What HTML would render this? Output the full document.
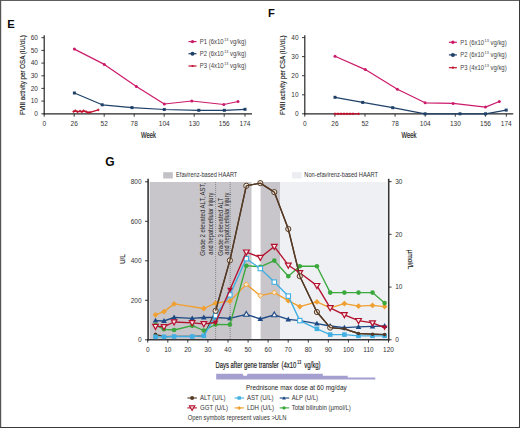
<!DOCTYPE html>
<html><head><meta charset="utf-8"><style>
html,body{margin:0;padding:0;background:#fff;}
body{width:520px;height:428px;overflow:hidden;}
svg{display:block;font-family:"Liberation Sans", sans-serif;}
</style></head><body>
<svg width="520" height="428" viewBox="0 0 520 428">
<rect x="0" y="0" width="520" height="428" fill="#fff"/>
<text transform="translate(7.20,27.80)" font-size="11.2" text-anchor="start" fill="#0a0a0a" font-weight="bold">E</text>
<line x1="44.2" y1="35.3" x2="44.2" y2="114.39999999999999" stroke="#262626" stroke-width="1.2"/>
<line x1="43.6" y1="113.8" x2="252" y2="113.8" stroke="#262626" stroke-width="1.3"/>
<line x1="41.400000000000006" y1="113.8" x2="44.2" y2="113.8" stroke="#262626" stroke-width="0.9"/>
<text transform="translate(37.90,116.10)" font-size="6.5" text-anchor="end" fill="#333">0</text>
<line x1="41.400000000000006" y1="101.1" x2="44.2" y2="101.1" stroke="#262626" stroke-width="0.9"/>
<text transform="translate(37.90,103.42)" font-size="6.5" text-anchor="end" fill="#333">10</text>
<line x1="41.400000000000006" y1="88.4" x2="44.2" y2="88.4" stroke="#262626" stroke-width="0.9"/>
<text transform="translate(37.90,90.73)" font-size="6.5" text-anchor="end" fill="#333">20</text>
<line x1="41.400000000000006" y1="75.8" x2="44.2" y2="75.8" stroke="#262626" stroke-width="0.9"/>
<text transform="translate(37.90,78.05)" font-size="6.5" text-anchor="end" fill="#333">30</text>
<line x1="41.400000000000006" y1="63.1" x2="44.2" y2="63.1" stroke="#262626" stroke-width="0.9"/>
<text transform="translate(37.90,65.37)" font-size="6.5" text-anchor="end" fill="#333">40</text>
<line x1="41.400000000000006" y1="50.4" x2="44.2" y2="50.4" stroke="#262626" stroke-width="0.9"/>
<text transform="translate(37.90,52.68)" font-size="6.5" text-anchor="end" fill="#333">50</text>
<line x1="41.400000000000006" y1="37.7" x2="44.2" y2="37.7" stroke="#262626" stroke-width="0.9"/>
<text transform="translate(37.90,40.00)" font-size="6.5" text-anchor="end" fill="#333">60</text>
<line x1="44.2" y1="113.8" x2="44.2" y2="116.7" stroke="#262626" stroke-width="0.9"/>
<text transform="translate(44.20,126.40)" font-size="6.5" text-anchor="middle" fill="#333">0</text>
<line x1="74.2" y1="113.8" x2="74.2" y2="116.7" stroke="#262626" stroke-width="0.9"/>
<text transform="translate(74.20,126.40)" font-size="6.5" text-anchor="middle" fill="#333">26</text>
<line x1="104.2" y1="113.8" x2="104.2" y2="116.7" stroke="#262626" stroke-width="0.9"/>
<text transform="translate(104.21,126.40)" font-size="6.5" text-anchor="middle" fill="#333">52</text>
<line x1="134.2" y1="113.8" x2="134.2" y2="116.7" stroke="#262626" stroke-width="0.9"/>
<text transform="translate(134.21,126.40)" font-size="6.5" text-anchor="middle" fill="#333">78</text>
<line x1="164.2" y1="113.8" x2="164.2" y2="116.7" stroke="#262626" stroke-width="0.9"/>
<text transform="translate(164.22,126.40)" font-size="6.5" text-anchor="middle" fill="#333">104</text>
<line x1="194.2" y1="113.8" x2="194.2" y2="116.7" stroke="#262626" stroke-width="0.9"/>
<text transform="translate(194.22,126.40)" font-size="6.5" text-anchor="middle" fill="#333">130</text>
<line x1="224.2" y1="113.8" x2="224.2" y2="116.7" stroke="#262626" stroke-width="0.9"/>
<text transform="translate(224.22,126.40)" font-size="6.5" text-anchor="middle" fill="#333">156</text>
<line x1="245.0" y1="113.8" x2="245.0" y2="116.7" stroke="#262626" stroke-width="0.9"/>
<text transform="translate(245.00,126.40)" font-size="6.5" text-anchor="middle" fill="#333">174</text>
<text stroke="#222" stroke-width="0.15" transform="translate(24.70,75.15) rotate(-90) scale(0.78,1)" font-size="8.0" text-anchor="middle" fill="#222">FVIII activity per OSA (IU/dL)</text>
<polyline points="74.4,49.1 104.3,64.4 136.4,86.5 164.3,104.0 191.8,101.0 223.8,104.5 238.0,101.5" fill="none" stroke="#cc1a6a" stroke-width="1.2" stroke-linejoin="round"/>
<circle cx="74.4" cy="49.1" r="1.5" fill="#cc1a6a"/>
<circle cx="104.3" cy="64.4" r="1.5" fill="#cc1a6a"/>
<circle cx="136.4" cy="86.5" r="1.5" fill="#cc1a6a"/>
<circle cx="164.3" cy="104.0" r="1.5" fill="#cc1a6a"/>
<circle cx="191.8" cy="101.0" r="1.5" fill="#cc1a6a"/>
<circle cx="223.8" cy="104.5" r="1.5" fill="#cc1a6a"/>
<circle cx="238.0" cy="101.5" r="1.5" fill="#cc1a6a"/>
<polyline points="74.4,93.0 102.2,104.8 132.0,107.6 164.3,109.5 198.8,110.3 224.3,110.3 245.0,109.3" fill="none" stroke="#1f4068" stroke-width="1.2" stroke-linejoin="round"/>
<rect x="72.9" y="91.5" width="3.0" height="3.0" fill="#1f4068"/>
<rect x="100.7" y="103.3" width="3.0" height="3.0" fill="#1f4068"/>
<rect x="130.5" y="106.1" width="3.0" height="3.0" fill="#1f4068"/>
<rect x="162.8" y="108.0" width="3.0" height="3.0" fill="#1f4068"/>
<rect x="197.3" y="108.8" width="3.0" height="3.0" fill="#1f4068"/>
<rect x="222.8" y="108.8" width="3.0" height="3.0" fill="#1f4068"/>
<rect x="243.5" y="107.8" width="3.0" height="3.0" fill="#1f4068"/>
<polyline points="73.6,111.6 75.3,110.7 77.5,111.8 80.0,111.1 82.0,111.8 83.6,110.8 86.0,111.6 88.0,112.5 90.0,112.3 98.3,109.9" fill="none" stroke="#c0102c" stroke-width="1.3" stroke-linejoin="round"/>
<path d="M72.3,111.6h2.6M73.6,110.3v2.6" stroke="#c0102c" stroke-width="0.9"/>
<path d="M74.0,110.7h2.6M75.3,109.4v2.6" stroke="#c0102c" stroke-width="0.9"/>
<path d="M76.2,111.8h2.6M77.5,110.5v2.6" stroke="#c0102c" stroke-width="0.9"/>
<path d="M78.7,111.1h2.6M80.0,109.8v2.6" stroke="#c0102c" stroke-width="0.9"/>
<path d="M80.7,111.8h2.6M82.0,110.5v2.6" stroke="#c0102c" stroke-width="0.9"/>
<path d="M82.3,110.8h2.6M83.6,109.5v2.6" stroke="#c0102c" stroke-width="0.9"/>
<path d="M84.7,111.6h2.6M86.0,110.3v2.6" stroke="#c0102c" stroke-width="0.9"/>
<path d="M86.7,112.5h2.6M88.0,111.2v2.6" stroke="#c0102c" stroke-width="0.9"/>
<path d="M88.7,112.3h2.6M90.0,111.0v2.6" stroke="#c0102c" stroke-width="0.9"/>
<path d="M97.0,109.9h2.6M98.3,108.6v2.6" stroke="#c0102c" stroke-width="0.9"/>
<line x1="188.5" y1="41.6" x2="196.5" y2="41.6" stroke="#cc1a6a" stroke-width="1.2"/>
<circle cx="192.5" cy="41.6" r="1.7" fill="#cc1a6a"/>
<text transform="translate(199.8,43.800000000000004) scale(0.95,1)" font-size="6.3" fill="#444">P1 (6x10<tspan font-size="4" dx="0.5" dy="-2.8">13</tspan><tspan dy="2.8"> vg/kg)</tspan></text>
<line x1="188.5" y1="53.7" x2="196.5" y2="53.7" stroke="#1f4068" stroke-width="1.2"/>
<circle cx="192.5" cy="53.7" r="2.0" fill="#1f4068"/>
<text transform="translate(199.8,55.900000000000006) scale(0.95,1)" font-size="6.3" fill="#444">P2 (6x10<tspan font-size="4" dx="0.5" dy="-2.8">13</tspan><tspan dy="2.8"> vg/kg)</tspan></text>
<line x1="188.5" y1="66.0" x2="196.5" y2="66.0" stroke="#c0102c" stroke-width="1.2"/>
<circle cx="192.5" cy="66.0" r="1.1" fill="#c0102c"/>
<text transform="translate(199.8,68.2) scale(0.95,1)" font-size="6.3" fill="#444">P3 (4x10<tspan font-size="4" dx="0.5" dy="-2.8">13</tspan><tspan dy="2.8"> vg/kg)</tspan></text>
<text transform="translate(267.90,16.80)" font-size="11.2" text-anchor="start" fill="#0a0a0a" font-weight="bold">F</text>
<line x1="304.8" y1="35.2" x2="304.8" y2="114.39999999999999" stroke="#262626" stroke-width="1.2"/>
<line x1="304.2" y1="113.8" x2="513.2" y2="113.8" stroke="#262626" stroke-width="1.3"/>
<line x1="302.0" y1="113.8" x2="304.8" y2="113.8" stroke="#262626" stroke-width="0.9"/>
<text transform="translate(298.50,116.10)" font-size="6.5" text-anchor="end" fill="#333">0</text>
<line x1="302.0" y1="94.8" x2="304.8" y2="94.8" stroke="#262626" stroke-width="0.9"/>
<text transform="translate(298.50,97.05)" font-size="6.5" text-anchor="end" fill="#333">10</text>
<line x1="302.0" y1="75.7" x2="304.8" y2="75.7" stroke="#262626" stroke-width="0.9"/>
<text transform="translate(298.50,78.00)" font-size="6.5" text-anchor="end" fill="#333">20</text>
<line x1="302.0" y1="56.6" x2="304.8" y2="56.6" stroke="#262626" stroke-width="0.9"/>
<text transform="translate(298.50,58.95)" font-size="6.5" text-anchor="end" fill="#333">30</text>
<line x1="302.0" y1="37.6" x2="304.8" y2="37.6" stroke="#262626" stroke-width="0.9"/>
<text transform="translate(298.50,39.90)" font-size="6.5" text-anchor="end" fill="#333">40</text>
<line x1="304.8" y1="113.8" x2="304.8" y2="116.7" stroke="#262626" stroke-width="0.9"/>
<text transform="translate(304.80,126.40)" font-size="6.5" text-anchor="middle" fill="#333">0</text>
<line x1="334.9" y1="113.8" x2="334.9" y2="116.7" stroke="#262626" stroke-width="0.9"/>
<text transform="translate(334.91,126.40)" font-size="6.5" text-anchor="middle" fill="#333">26</text>
<line x1="365.0" y1="113.8" x2="365.0" y2="116.7" stroke="#262626" stroke-width="0.9"/>
<text transform="translate(365.02,126.40)" font-size="6.5" text-anchor="middle" fill="#333">52</text>
<line x1="395.1" y1="113.8" x2="395.1" y2="116.7" stroke="#262626" stroke-width="0.9"/>
<text transform="translate(395.12,126.40)" font-size="6.5" text-anchor="middle" fill="#333">78</text>
<line x1="425.2" y1="113.8" x2="425.2" y2="116.7" stroke="#262626" stroke-width="0.9"/>
<text transform="translate(425.23,126.40)" font-size="6.5" text-anchor="middle" fill="#333">104</text>
<line x1="455.3" y1="113.8" x2="455.3" y2="116.7" stroke="#262626" stroke-width="0.9"/>
<text transform="translate(455.34,126.40)" font-size="6.5" text-anchor="middle" fill="#333">130</text>
<line x1="485.4" y1="113.8" x2="485.4" y2="116.7" stroke="#262626" stroke-width="0.9"/>
<text transform="translate(485.45,126.40)" font-size="6.5" text-anchor="middle" fill="#333">156</text>
<line x1="506.3" y1="113.8" x2="506.3" y2="116.7" stroke="#262626" stroke-width="0.9"/>
<text transform="translate(506.29,126.40)" font-size="6.5" text-anchor="middle" fill="#333">174</text>
<text stroke="#222" stroke-width="0.15" transform="translate(285.00,75.10) rotate(-90) scale(0.78,1)" font-size="8.0" text-anchor="middle" fill="#222">FVIII activity per CSA (IU/dL)</text>
<polyline points="335.0,56.2 365.3,69.6 397.4,89.2 425.1,102.8 453.1,103.4 485.5,107.1 499.3,101.5" fill="none" stroke="#cc1a6a" stroke-width="1.2" stroke-linejoin="round"/>
<circle cx="335.0" cy="56.2" r="1.5" fill="#cc1a6a"/>
<circle cx="365.3" cy="69.6" r="1.5" fill="#cc1a6a"/>
<circle cx="397.4" cy="89.2" r="1.5" fill="#cc1a6a"/>
<circle cx="425.1" cy="102.8" r="1.5" fill="#cc1a6a"/>
<circle cx="453.1" cy="103.4" r="1.5" fill="#cc1a6a"/>
<circle cx="485.5" cy="107.1" r="1.5" fill="#cc1a6a"/>
<circle cx="499.3" cy="101.5" r="1.5" fill="#cc1a6a"/>
<polyline points="335.0,97.3 362.7,102.4 392.7,107.7 425.1,113.8 460.0,113.8 485.5,113.8 506.2,110.1" fill="none" stroke="#1f4068" stroke-width="1.2" stroke-linejoin="round"/>
<rect x="333.5" y="95.8" width="3.0" height="3.0" fill="#1f4068"/>
<rect x="361.2" y="100.9" width="3.0" height="3.0" fill="#1f4068"/>
<rect x="391.2" y="106.2" width="3.0" height="3.0" fill="#1f4068"/>
<rect x="423.6" y="112.3" width="3.0" height="3.0" fill="#1f4068"/>
<rect x="458.5" y="112.3" width="3.0" height="3.0" fill="#1f4068"/>
<rect x="484.0" y="112.3" width="3.0" height="3.0" fill="#1f4068"/>
<rect x="504.7" y="108.6" width="3.0" height="3.0" fill="#1f4068"/>
<polyline points="335.0,113.8 338.0,113.8 341.0,113.8 344.0,113.8 347.0,113.8 350.0,113.8 353.0,113.8 358.6,113.8" fill="none" stroke="#c0102c" stroke-width="1.3" stroke-linejoin="round"/>
<path d="M333.7,113.8h2.6M335.0,112.5v2.6" stroke="#c0102c" stroke-width="0.9"/>
<path d="M336.7,113.8h2.6M338.0,112.5v2.6" stroke="#c0102c" stroke-width="0.9"/>
<path d="M339.7,113.8h2.6M341.0,112.5v2.6" stroke="#c0102c" stroke-width="0.9"/>
<path d="M342.7,113.8h2.6M344.0,112.5v2.6" stroke="#c0102c" stroke-width="0.9"/>
<path d="M345.7,113.8h2.6M347.0,112.5v2.6" stroke="#c0102c" stroke-width="0.9"/>
<path d="M348.7,113.8h2.6M350.0,112.5v2.6" stroke="#c0102c" stroke-width="0.9"/>
<path d="M351.7,113.8h2.6M353.0,112.5v2.6" stroke="#c0102c" stroke-width="0.9"/>
<path d="M357.3,113.8h2.6M358.6,112.5v2.6" stroke="#c0102c" stroke-width="0.9"/>
<line x1="448.9" y1="42.3" x2="456.9" y2="42.3" stroke="#cc1a6a" stroke-width="1.2"/>
<circle cx="452.9" cy="42.3" r="1.7" fill="#cc1a6a"/>
<text transform="translate(460.2,44.5) scale(0.95,1)" font-size="6.3" fill="#444">P1 (6x10<tspan font-size="4" dx="0.5" dy="-2.8">13</tspan><tspan dy="2.8"> vg/kg)</tspan></text>
<line x1="448.9" y1="54.9" x2="456.9" y2="54.9" stroke="#1f4068" stroke-width="1.2"/>
<circle cx="452.9" cy="54.9" r="2.0" fill="#1f4068"/>
<text transform="translate(460.2,57.1) scale(0.95,1)" font-size="6.3" fill="#444">P2 (6x10<tspan font-size="4" dx="0.5" dy="-2.8">13</tspan><tspan dy="2.8"> vg/kg)</tspan></text>
<line x1="448.9" y1="67.7" x2="456.9" y2="67.7" stroke="#c0102c" stroke-width="1.2"/>
<circle cx="452.9" cy="67.7" r="1.1" fill="#c0102c"/>
<text transform="translate(460.2,69.9) scale(0.95,1)" font-size="6.3" fill="#444">P3 (4x10<tspan font-size="4" dx="0.5" dy="-2.8">13</tspan><tspan dy="2.8"> vg/kg)</tspan></text>
<text stroke="#1a1a1a" stroke-width="0.2" transform="translate(148.40,138.20) scale(0.67,1)" font-size="8.8" text-anchor="middle" fill="#1a1a1a">Week</text>
<text stroke="#1a1a1a" stroke-width="0.2" transform="translate(409.00,137.90) scale(0.67,1)" font-size="8.8" text-anchor="middle" fill="#1a1a1a">Week</text>
<rect x="149.6" y="182.0" width="101.9" height="156.89999999999998" fill="#c8c6cb"/>
<rect x="260.6" y="182.0" width="19.399999999999977" height="156.89999999999998" fill="#c8c6cb"/>
<rect x="280" y="182.0" width="106.60000000000002" height="156.89999999999998" fill="#eff0f3"/>
<line x1="215.6" y1="182.0" x2="215.6" y2="339.8" stroke="#555" stroke-width="0.7" stroke-dasharray="0.8,1.2"/>
<line x1="230.2" y1="182.0" x2="230.2" y2="339.8" stroke="#555" stroke-width="0.7" stroke-dasharray="0.8,1.2"/>
<text transform="translate(204.90,255.70) rotate(-90) scale(0.91,1)" font-size="6.6" text-anchor="start" fill="#2a2a2a">Grade 2 elevated ALT, AST,</text>
<text transform="translate(213.10,254.80) rotate(-90) scale(0.87,1)" font-size="6.6" text-anchor="start" fill="#2a2a2a">and hepatocellular injury</text>
<text transform="translate(222.90,255.70) rotate(-90) scale(0.91,1)" font-size="6.6" text-anchor="start" fill="#2a2a2a">Grade 3 elevated ALT</text>
<text transform="translate(228.70,254.80) rotate(-90) scale(0.87,1)" font-size="6.6" text-anchor="start" fill="#2a2a2a">and hepatocellular injury</text>
<line x1="148.1" y1="178.8" x2="148.1" y2="340.5" stroke="#363538" stroke-width="1.6"/>
<line x1="388.7" y1="178.8" x2="388.7" y2="340.5" stroke="#363538" stroke-width="1.6"/>
<line x1="147.4" y1="339.8" x2="389.4" y2="339.8" stroke="#363538" stroke-width="1.5"/>
<line x1="145" y1="339.8" x2="148" y2="339.8" stroke="#262626" stroke-width="0.9"/>
<text transform="translate(141.60,342.10)" font-size="6.5" text-anchor="end" fill="#333">0</text>
<line x1="145" y1="300.3" x2="148" y2="300.3" stroke="#262626" stroke-width="0.9"/>
<text transform="translate(141.60,302.60)" font-size="6.5" text-anchor="end" fill="#333">200</text>
<line x1="145" y1="260.8" x2="148" y2="260.8" stroke="#262626" stroke-width="0.9"/>
<text transform="translate(141.60,263.10)" font-size="6.5" text-anchor="end" fill="#333">400</text>
<line x1="145" y1="221.3" x2="148" y2="221.3" stroke="#262626" stroke-width="0.9"/>
<text transform="translate(141.60,223.60)" font-size="6.5" text-anchor="end" fill="#333">600</text>
<line x1="145" y1="181.8" x2="148" y2="181.8" stroke="#262626" stroke-width="0.9"/>
<text transform="translate(141.60,184.10)" font-size="6.5" text-anchor="end" fill="#333">800</text>
<line x1="388.8" y1="339.8" x2="391.6" y2="339.8" stroke="#262626" stroke-width="0.9"/>
<text transform="translate(395.20,342.10)" font-size="6.5" text-anchor="start" fill="#333">0</text>
<line x1="388.8" y1="287.1" x2="391.6" y2="287.1" stroke="#262626" stroke-width="0.9"/>
<text transform="translate(395.20,289.37)" font-size="6.5" text-anchor="start" fill="#333">10</text>
<line x1="388.8" y1="234.3" x2="391.6" y2="234.3" stroke="#262626" stroke-width="0.9"/>
<text transform="translate(395.20,236.63)" font-size="6.5" text-anchor="start" fill="#333">20</text>
<line x1="388.8" y1="181.6" x2="391.6" y2="181.6" stroke="#262626" stroke-width="0.9"/>
<text transform="translate(395.20,183.90)" font-size="6.5" text-anchor="start" fill="#333">30</text>
<line x1="147.7" y1="339.8" x2="147.7" y2="342.6" stroke="#262626" stroke-width="0.9"/>
<text transform="translate(147.70,351.90)" font-size="6.5" text-anchor="middle" fill="#333">0</text>
<line x1="167.8" y1="339.8" x2="167.8" y2="342.6" stroke="#262626" stroke-width="0.9"/>
<text transform="translate(167.77,351.90)" font-size="6.5" text-anchor="middle" fill="#333">10</text>
<line x1="187.8" y1="339.8" x2="187.8" y2="342.6" stroke="#262626" stroke-width="0.9"/>
<text transform="translate(187.84,351.90)" font-size="6.5" text-anchor="middle" fill="#333">20</text>
<line x1="207.9" y1="339.8" x2="207.9" y2="342.6" stroke="#262626" stroke-width="0.9"/>
<text transform="translate(207.91,351.90)" font-size="6.5" text-anchor="middle" fill="#333">30</text>
<line x1="228.0" y1="339.8" x2="228.0" y2="342.6" stroke="#262626" stroke-width="0.9"/>
<text transform="translate(227.98,351.90)" font-size="6.5" text-anchor="middle" fill="#333">40</text>
<line x1="248.1" y1="339.8" x2="248.1" y2="342.6" stroke="#262626" stroke-width="0.9"/>
<text transform="translate(248.05,351.90)" font-size="6.5" text-anchor="middle" fill="#333">50</text>
<line x1="268.1" y1="339.8" x2="268.1" y2="342.6" stroke="#262626" stroke-width="0.9"/>
<text transform="translate(268.12,351.90)" font-size="6.5" text-anchor="middle" fill="#333">60</text>
<line x1="288.2" y1="339.8" x2="288.2" y2="342.6" stroke="#262626" stroke-width="0.9"/>
<text transform="translate(288.19,351.90)" font-size="6.5" text-anchor="middle" fill="#333">70</text>
<line x1="308.3" y1="339.8" x2="308.3" y2="342.6" stroke="#262626" stroke-width="0.9"/>
<text transform="translate(308.26,351.90)" font-size="6.5" text-anchor="middle" fill="#333">80</text>
<line x1="328.3" y1="339.8" x2="328.3" y2="342.6" stroke="#262626" stroke-width="0.9"/>
<text transform="translate(328.33,351.90)" font-size="6.5" text-anchor="middle" fill="#333">90</text>
<line x1="348.4" y1="339.8" x2="348.4" y2="342.6" stroke="#262626" stroke-width="0.9"/>
<text transform="translate(348.40,351.90)" font-size="6.5" text-anchor="middle" fill="#333">100</text>
<line x1="368.5" y1="339.8" x2="368.5" y2="342.6" stroke="#262626" stroke-width="0.9"/>
<text transform="translate(368.47,351.90)" font-size="6.5" text-anchor="middle" fill="#333">110</text>
<line x1="388.5" y1="339.8" x2="388.5" y2="342.6" stroke="#262626" stroke-width="0.9"/>
<text transform="translate(388.54,351.90)" font-size="6.5" text-anchor="middle" fill="#333">120</text>
<text stroke="#1a1a1a" stroke-width="0.15" transform="translate(124.50,259.20) rotate(-90) scale(0.88,1)" font-size="7.2" text-anchor="middle" fill="#1a1a1a">U/L</text>
<text stroke="#1a1a1a" stroke-width="0.15" transform="translate(408.30,259.50) rotate(90) scale(0.95,1)" font-size="7" text-anchor="middle" fill="#1a1a1a">µmol/L</text>
<text transform="translate(105.30,165.90)" font-size="12" text-anchor="start" fill="#0a0a0a" font-weight="bold">G</text>
<rect x="163.2" y="172.2" width="9.6" height="6.3" fill="#c3c1c6"/>
<text transform="translate(176.10,177.40) scale(0.866,1)" font-size="6.5" text-anchor="start" fill="#333">Efavirenz-based HAART</text>
<rect x="292.0" y="172.2" width="9.6" height="6.3" fill="#ecedf0"/>
<text transform="translate(304.30,177.40) scale(0.88,1)" font-size="6.5" text-anchor="start" fill="#333">Non-efavirenz-based HAART</text>
<polyline points="155.5,334.4 164.0,336.6 174.1,336.4 192.2,336.4 203.8,335.8 215.6,310.8 229.9,260.4 246.3,185.8 260.3,183.1 274.3,192.1 288.3,229.0 299.8,276.2 316.9,312.0 330.2,327.6 344.4,328.8 358.5,333.5 372.5,334.2 384.6,334.6" fill="none" stroke="#553a25" stroke-width="1.35" stroke-linejoin="round"/>
<circle cx="155.5" cy="334.4" r="1.8" fill="#553a25"/>
<polyline points="155.5,314.8 164.0,311.6 174.1,303.9 203.8,308.5 215.6,303.2 229.9,301.2 246.3,284.4 260.3,295.6 274.3,292.6 288.3,300.7 299.8,306.6 316.9,301.9 330.2,307.8 344.4,303.6 358.5,306.1 372.5,305.4 384.6,306.6" fill="none" stroke="#f0a030" stroke-width="1.35" stroke-linejoin="round"/>
<polygon points="155.5,311.90000000000003 158.4,314.8 155.5,317.7 152.6,314.8" fill="#f0a030"/>
<polygon points="164,308.70000000000005 166.9,311.6 164,314.5 161.1,311.6" fill="#f0a030"/>
<polygon points="174.1,301.0 177.0,303.9 174.1,306.79999999999995 171.2,303.9" fill="#f0a030"/>
<polygon points="203.8,305.6 206.70000000000002,308.5 203.8,311.4 200.9,308.5" fill="#f0a030"/>
<polygon points="215.6,300.3 218.5,303.2 215.6,306.09999999999997 212.7,303.2" fill="#f0a030"/>
<polygon points="229.9,298.3 232.8,301.2 229.9,304.09999999999997 227.0,301.2" fill="#f0a030"/>
<polygon points="246.3,281.79999999999995 248.9,284.4 246.3,287.0 243.70000000000002,284.4" fill="#f7e3c6" stroke="#f0a030" stroke-width="0.9"/>
<polygon points="260.3,293.0 262.90000000000003,295.6 260.3,298.20000000000005 257.7,295.6" fill="#f7e3c6" stroke="#f0a030" stroke-width="0.9"/>
<polygon points="274.3,290.0 276.90000000000003,292.6 274.3,295.20000000000005 271.7,292.6" fill="#f7e3c6" stroke="#f0a030" stroke-width="0.9"/>
<polygon points="288.3,297.8 291.2,300.7 288.3,303.59999999999997 285.40000000000003,300.7" fill="#f0a030"/>
<polygon points="299.8,303.70000000000005 302.7,306.6 299.8,309.5 296.90000000000003,306.6" fill="#f0a030"/>
<polygon points="316.9,299.0 319.79999999999995,301.9 316.9,304.79999999999995 314.0,301.9" fill="#f0a030"/>
<polygon points="330.2,304.90000000000003 333.09999999999997,307.8 330.2,310.7 327.3,307.8" fill="#f0a030"/>
<polygon points="344.4,300.70000000000005 347.29999999999995,303.6 344.4,306.5 341.5,303.6" fill="#f0a030"/>
<polygon points="358.5,303.20000000000005 361.4,306.1 358.5,309.0 355.6,306.1" fill="#f0a030"/>
<polygon points="372.5,302.5 375.4,305.4 372.5,308.29999999999995 369.6,305.4" fill="#f0a030"/>
<polygon points="384.6,303.70000000000005 387.5,306.6 384.6,309.5 381.70000000000005,306.6" fill="#f0a030"/>
<polyline points="155.5,320.6 164.0,321.0 174.1,317.4 192.2,318.4 203.8,317.5 215.6,317.5 229.9,318.3 246.3,314.3 260.3,319.0 274.3,314.8 288.3,319.4 299.8,320.6 316.9,323.6 330.2,326.0 344.4,327.6 358.5,326.9 372.5,326.4 384.6,326.0" fill="none" stroke="#1d4a85" stroke-width="1.35" stroke-linejoin="round"/>
<polygon points="155.5,317.7 158.3,322.6 152.7,322.6" fill="#1d4a85"/>
<polygon points="164.0,318.1 166.8,323.0 161.2,323.0" fill="#1d4a85"/>
<polygon points="174.1,314.5 176.9,319.4 171.3,319.4" fill="#1d4a85"/>
<polygon points="192.2,315.5 195.0,320.4 189.4,320.4" fill="#1d4a85"/>
<polygon points="203.8,314.6 206.6,319.5 201.0,319.5" fill="#1d4a85"/>
<polygon points="215.6,314.6 218.4,319.5 212.8,319.5" fill="#1d4a85"/>
<polygon points="229.9,315.4 232.7,320.3 227.1,320.3" fill="#1d4a85"/>
<polygon points="246.3,311.4 249.1,316.3 243.5,316.3" fill="#f0f0f4" stroke="#1d4a85" stroke-width="1.1"/>
<polygon points="260.3,316.1 263.1,321.0 257.5,321.0" fill="#1d4a85"/>
<polygon points="274.3,311.9 277.1,316.8 271.5,316.8" fill="#f0f0f4" stroke="#1d4a85" stroke-width="1.1"/>
<polygon points="288.3,316.5 291.1,321.4 285.5,321.4" fill="#1d4a85"/>
<polygon points="299.8,317.7 302.6,322.6 297.0,322.6" fill="#1d4a85"/>
<polygon points="316.9,320.7 319.7,325.6 314.1,325.6" fill="#1d4a85"/>
<polygon points="330.2,323.1 333.0,328.0 327.4,328.0" fill="#1d4a85"/>
<polygon points="344.4,324.7 347.2,329.6 341.6,329.6" fill="#1d4a85"/>
<polygon points="358.5,324.0 361.3,328.9 355.7,328.9" fill="#1d4a85"/>
<polygon points="372.5,323.5 375.3,328.4 369.7,328.4" fill="#1d4a85"/>
<polygon points="384.6,323.1 387.4,328.0 381.8,328.0" fill="#1d4a85"/>
<polyline points="155.5,324.9 164.0,329.3 174.1,330.0 192.2,325.7 203.8,330.5 215.6,324.5 229.9,324.6 246.3,265.7 260.3,266.9 274.3,260.6 288.3,276.2 299.8,266.2 316.9,266.2 330.2,292.6 344.4,292.6 358.5,292.6 372.5,292.6 384.6,303.1" fill="none" stroke="#3aa83c" stroke-width="1.35" stroke-linejoin="round"/>
<circle cx="155.5" cy="324.9" r="2.3" fill="#3aa83c"/>
<circle cx="164.0" cy="329.3" r="2.3" fill="#3aa83c"/>
<circle cx="174.1" cy="330.0" r="2.3" fill="#3aa83c"/>
<circle cx="192.2" cy="325.7" r="2.3" fill="#3aa83c"/>
<circle cx="203.8" cy="330.5" r="2.3" fill="#3aa83c"/>
<circle cx="215.6" cy="324.5" r="2.3" fill="#3aa83c"/>
<circle cx="229.9" cy="324.6" r="2.3" fill="#3aa83c"/>
<circle cx="246.3" cy="265.7" r="2.3" fill="#3aa83c"/>
<circle cx="260.3" cy="266.9" r="2.3" fill="#3aa83c"/>
<circle cx="274.3" cy="260.6" r="2.3" fill="#3aa83c"/>
<circle cx="288.3" cy="276.2" r="2.3" fill="#3aa83c"/>
<circle cx="299.8" cy="266.2" r="2.3" fill="#3aa83c"/>
<circle cx="316.9" cy="266.2" r="2.3" fill="#3aa83c"/>
<circle cx="330.2" cy="292.6" r="2.3" fill="#3aa83c"/>
<circle cx="344.4" cy="292.6" r="2.3" fill="#3aa83c"/>
<circle cx="358.5" cy="292.6" r="2.3" fill="#3aa83c"/>
<circle cx="372.5" cy="292.6" r="2.3" fill="#3aa83c"/>
<circle cx="384.6" cy="303.1" r="2.3" fill="#3aa83c"/>
<polyline points="155.5,336.8 164.0,336.8 174.1,336.5 192.2,336.5 203.8,335.8 215.6,315.7 229.9,294.9 246.3,258.7 260.3,268.5 274.3,282.1 288.3,296.1 299.8,320.6 316.9,328.8 330.2,334.6 344.4,334.6 358.5,335.8 372.5,335.8 384.6,335.8" fill="none" stroke="#41afe1" stroke-width="1.35" stroke-linejoin="round"/>
<rect x="153.2" y="334.5" width="4.6" height="4.6" fill="#41afe1"/>
<rect x="161.7" y="334.5" width="4.6" height="4.6" fill="#41afe1"/>
<rect x="171.8" y="334.2" width="4.6" height="4.6" fill="#41afe1"/>
<rect x="189.9" y="334.2" width="4.6" height="4.6" fill="#41afe1"/>
<rect x="201.5" y="333.5" width="4.6" height="4.6" fill="#41afe1"/>
<rect x="213.4" y="313.5" width="4.4" height="4.4" fill="white" stroke="#41afe1" stroke-width="1.1"/>
<rect x="227.7" y="292.7" width="4.4" height="4.4" fill="white" stroke="#41afe1" stroke-width="1.1"/>
<rect x="244.1" y="256.5" width="4.4" height="4.4" fill="white" stroke="#41afe1" stroke-width="1.1"/>
<rect x="258.1" y="266.3" width="4.4" height="4.4" fill="white" stroke="#41afe1" stroke-width="1.1"/>
<rect x="272.1" y="279.9" width="4.4" height="4.4" fill="white" stroke="#41afe1" stroke-width="1.1"/>
<rect x="286.1" y="293.9" width="4.4" height="4.4" fill="white" stroke="#41afe1" stroke-width="1.1"/>
<rect x="297.6" y="318.4" width="4.4" height="4.4" fill="white" stroke="#41afe1" stroke-width="1.1"/>
<rect x="314.6" y="326.5" width="4.6" height="4.6" fill="#41afe1"/>
<rect x="327.9" y="332.3" width="4.6" height="4.6" fill="#41afe1"/>
<rect x="342.1" y="332.3" width="4.6" height="4.6" fill="#41afe1"/>
<rect x="356.2" y="333.5" width="4.6" height="4.6" fill="#41afe1"/>
<rect x="370.2" y="333.5" width="4.6" height="4.6" fill="#41afe1"/>
<rect x="382.3" y="333.5" width="4.6" height="4.6" fill="#41afe1"/>
<polyline points="155.5,326.4 164.0,326.7 174.1,322.0 192.2,322.8 203.8,323.8 215.6,322.5 229.9,289.8 246.3,252.1 260.3,257.5 274.3,246.5 288.3,265.2 299.8,272.7 316.9,285.6 330.2,307.8 344.4,314.8 358.5,320.6 372.5,322.9 384.6,327.6" fill="none" stroke="#b3122f" stroke-width="1.35" stroke-linejoin="round"/>
<polygon points="155.5,329.4 158.3,324.3 152.7,324.3" fill="#fbe9ec" stroke="#b3122f" stroke-width="1.2"/>
<polygon points="164.0,329.7 166.8,324.6 161.2,324.6" fill="#fbe9ec" stroke="#b3122f" stroke-width="1.2"/>
<polygon points="174.1,325.0 176.9,319.9 171.2,319.9" fill="#fbe9ec" stroke="#b3122f" stroke-width="1.2"/>
<polygon points="192.2,325.8 195.0,320.7 189.3,320.7" fill="#fbe9ec" stroke="#b3122f" stroke-width="1.2"/>
<polygon points="203.8,326.8 206.7,321.7 201.0,321.7" fill="#fbe9ec" stroke="#b3122f" stroke-width="1.2"/>
<polygon points="215.6,325.5 218.4,320.4 212.8,320.4" fill="#b3122f"/>
<polygon points="229.9,292.8 232.8,287.7 227.1,287.7" fill="#b3122f"/>
<polygon points="246.3,255.1 249.2,250.0 243.5,250.0" fill="#fbe9ec" stroke="#b3122f" stroke-width="1.2"/>
<polygon points="260.3,260.5 263.2,255.4 257.4,255.4" fill="#fbe9ec" stroke="#b3122f" stroke-width="1.2"/>
<polygon points="274.3,249.5 277.2,244.4 271.4,244.4" fill="#fbe9ec" stroke="#b3122f" stroke-width="1.2"/>
<polygon points="288.3,268.2 291.2,263.1 285.4,263.1" fill="#fbe9ec" stroke="#b3122f" stroke-width="1.2"/>
<polygon points="299.8,275.7 302.7,270.6 296.9,270.6" fill="#fbe9ec" stroke="#b3122f" stroke-width="1.2"/>
<polygon points="316.9,288.6 319.8,283.5 314.0,283.5" fill="#fbe9ec" stroke="#b3122f" stroke-width="1.2"/>
<polygon points="330.2,310.8 333.1,305.7 327.3,305.7" fill="#fbe9ec" stroke="#b3122f" stroke-width="1.2"/>
<polygon points="344.4,317.8 347.2,312.7 341.5,312.7" fill="#fbe9ec" stroke="#b3122f" stroke-width="1.2"/>
<polygon points="358.5,323.6 361.4,318.5 355.6,318.5" fill="#fbe9ec" stroke="#b3122f" stroke-width="1.2"/>
<polygon points="372.5,325.9 375.4,320.8 369.6,320.8" fill="#fbe9ec" stroke="#b3122f" stroke-width="1.2"/>
<polygon points="384.6,330.6 387.5,325.5 381.8,325.5" fill="#b3122f"/>
<circle cx="215.6" cy="310.8" r="2.6" fill="#efe6da" stroke="#553a25" stroke-width="1.0"/>
<circle cx="229.9" cy="260.4" r="2.6" fill="#efe6da" stroke="#553a25" stroke-width="1.0"/>
<circle cx="246.3" cy="185.8" r="2.6" fill="#efe6da" stroke="#553a25" stroke-width="1.0"/>
<circle cx="260.3" cy="183.1" r="2.6" fill="#efe6da" stroke="#553a25" stroke-width="1.0"/>
<circle cx="274.3" cy="192.1" r="2.6" fill="#efe6da" stroke="#553a25" stroke-width="1.0"/>
<circle cx="288.3" cy="229.0" r="2.6" fill="#efe6da" stroke="#553a25" stroke-width="1.0"/>
<circle cx="299.8" cy="276.2" r="2.6" fill="#efe6da" stroke="#553a25" stroke-width="1.0"/>
<circle cx="316.9" cy="312" r="2.6" fill="#efe6da" stroke="#553a25" stroke-width="1.0"/>
<circle cx="330.2" cy="327.6" r="2.6" fill="#efe6da" stroke="#553a25" stroke-width="1.0"/>
<circle cx="344.4" cy="328.8" r="1.8" fill="#553a25"/>
<circle cx="358.5" cy="333.5" r="1.8" fill="#553a25"/>
<circle cx="372.5" cy="334.2" r="1.8" fill="#553a25"/>
<circle cx="384.6" cy="334.6" r="1.8" fill="#553a25"/>
<polyline points="215.6,310.8 229.9,260.4 246.3,185.8 260.3,183.1 274.3,192.1 288.3,229.0 299.8,276.2 316.9,312.0 330.2,327.6 344.4,328.8 358.5,333.5 372.5,334.2 384.6,334.6" fill="none" stroke="#553a25" stroke-width="1.35" stroke-linejoin="round"/>
<text x="215.5" y="367.6" font-size="9.3" textLength="63.3" fill="#1a1a1a" stroke="#1a1a1a" stroke-width="0.2" lengthAdjust="spacingAndGlyphs">Days after gene transfer</text>
<text x="281.5" y="367.6" font-size="9.3" textLength="14.8" fill="#1a1a1a" stroke="#1a1a1a" stroke-width="0.2" lengthAdjust="spacingAndGlyphs">(4x10</text>
<text x="297.3" y="364.3" font-size="5.7" textLength="3.7" fill="#1a1a1a" stroke="#1a1a1a" stroke-width="0.2" lengthAdjust="spacingAndGlyphs">13</text>
<text x="304.3" y="367.6" font-size="9.3" textLength="16.2" fill="#1a1a1a" stroke="#1a1a1a" stroke-width="0.2" lengthAdjust="spacingAndGlyphs">vg/kg)</text>
<polygon points="216.2,373.8 242.6,373.8 243.4,375.8 246.8,375.8 247.5,373.8 322.8,373.8 322.8,375.8 347.7,375.8 347.7,377.6 375.3,377.6 375.3,379.6 216.2,379.6" fill="#a49fcf"/>
<text transform="translate(246.00,390.00) scale(0.97,1)" font-size="6.6" text-anchor="start" fill="#222">Prednisone max dose at 60 mg/day</text>
<line x1="187.4" y1="398.0" x2="196.9" y2="398.0" stroke="#553a25" stroke-width="1.1"/>
<circle cx="192.1" cy="398.0" r="2.0" fill="#553a25"/>
<text transform="translate(200.00,400.30) scale(0.93,1)" font-size="6.5" text-anchor="start" fill="#333333">ALT (U/L)</text>
<line x1="234.6" y1="398.0" x2="244.1" y2="398.0" stroke="#41afe1" stroke-width="1.1"/>
<rect x="237.5" y="396.3" width="3.4" height="3.4" fill="#41afe1"/>
<text transform="translate(246.90,400.30) scale(0.93,1)" font-size="6.5" text-anchor="start" fill="#333333">AST (U/L)</text>
<line x1="279.7" y1="398.0" x2="289.2" y2="398.0" stroke="#1d4a85" stroke-width="1.1"/>
<polygon points="284.0,396.2 285.9,399.6 282.1,399.6" fill="#1d4a85"/>
<text transform="translate(291.70,400.30) scale(0.93,1)" font-size="6.5" text-anchor="start" fill="#333333">ALP (U/L)</text>
<line x1="187.4" y1="407.9" x2="196.9" y2="407.9" stroke="#b3122f" stroke-width="1.1"/>
<polygon points="192.1,410.5 194.8,405.7 189.4,405.7" fill="#f3c9d0" stroke="#b3122f" stroke-width="1.1"/>
<text transform="translate(200.00,410.20) scale(0.93,1)" font-size="6.5" text-anchor="start" fill="#333333">GGT (U/L)</text>
<line x1="234.6" y1="407.9" x2="244.1" y2="407.9" stroke="#f0a030" stroke-width="1.1"/>
<polygon points="239.2,405.9 241.2,407.9 239.2,409.9 237.2,407.9" fill="#f0a030"/>
<text transform="translate(246.90,410.20) scale(0.93,1)" font-size="6.5" text-anchor="start" fill="#333333">LDH (U/L)</text>
<line x1="279.7" y1="407.9" x2="289.2" y2="407.9" stroke="#3aa83c" stroke-width="1.1"/>
<circle cx="284.0" cy="407.9" r="1.7" fill="#3aa83c"/>
<text transform="translate(291.70,410.20) scale(0.93,1)" font-size="6.5" text-anchor="start" fill="#333333">Total bilirubin (µmol/L)</text>
<text transform="translate(187.70,420.00) scale(0.9,1)" font-size="6.5" text-anchor="start" fill="#333333">Open symbols represent values &gt;ULN</text>
<rect x="0" y="0" width="520" height="1" fill="#5e5e5e"/><rect x="0" y="0" width="1.2" height="428" fill="#555"/><rect x="519" y="0" width="1" height="428" fill="#3a3a3a"/><rect x="0" y="427" width="520" height="1" fill="#3a3a3a"/>
</svg>
</body></html>
